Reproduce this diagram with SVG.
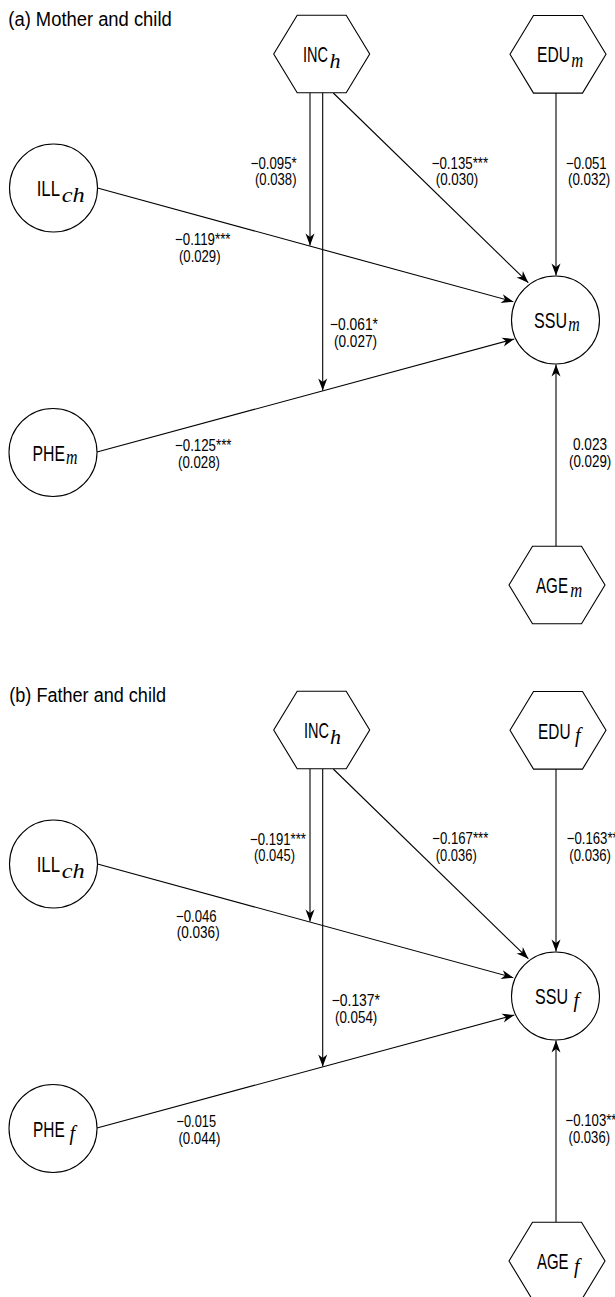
<svg xmlns="http://www.w3.org/2000/svg" xmlns:xlink="http://www.w3.org/1999/xlink" width="615" height="1297" viewBox="0 0 615 1297">
<style>
.t{font-family:"Liberation Sans Narrow","Liberation Sans",Arial,sans-serif;fill:#000}
.title{font-size:20px}
.nl{font-size:22px}
.sub{font-family:"Liberation Serif","Times New Roman",serif;font-style:italic;font-size:20px}
.el{font-size:16.5px}
.node{fill:#fff;stroke:#000;stroke-width:1.1}
.edge{fill:none;stroke:#000;stroke-width:1.1;marker-end:url(#arr)}
</style>
<defs>
<marker id="arr" markerUnits="userSpaceOnUse" viewBox="-13 -6 14 12" refX="0" refY="0" markerWidth="14" markerHeight="12" orient="auto"><path d="M0,0 L-12,-4.5 L-8.5,0 L-12,4.5 Z" fill="#000"/></marker>
<polygon id="hex" points="-48,0 -24.5,-38.8 24.5,-38.8 48,0 24.5,38.8 -24.5,38.8"/>
</defs>
<rect width="615" height="1297" fill="#fff"/>

<g id="panel-a">
<text class="t title" x="8.3" y="26" textLength="163.4" lengthAdjust="spacingAndGlyphs">(a) Mother and child</text>
<g id="a-connectors">
<line class="edge" x1="310" y1="93" x2="310" y2="245.5"/>
<line class="edge" x1="322.7" y1="93" x2="322.7" y2="390.5"/>
<line class="edge" x1="333.3" y1="93" x2="528.3" y2="282.7"/>
<line class="edge" x1="556" y1="93" x2="556" y2="275.5"/>
<line class="edge" x1="97.5" y1="188" x2="513.3" y2="301.7"/>
<line class="edge" x1="97" y1="452" x2="514.3" y2="339"/>
<line class="edge" x1="556" y1="546.5" x2="556" y2="364.5"/>
<text class="t el" x="250.7" y="168.5" textLength="46" lengthAdjust="spacingAndGlyphs">−0.095*</text>
<text class="t el" x="255" y="185" textLength="41.5" lengthAdjust="spacingAndGlyphs">(0.038)</text>
<text class="t el" x="431.7" y="168.5" textLength="56.5" lengthAdjust="spacingAndGlyphs">−0.135***</text>
<text class="t el" x="435.7" y="185" textLength="42.5" lengthAdjust="spacingAndGlyphs">(0.030)</text>
<text class="t el" x="566" y="168.5" textLength="40.7" lengthAdjust="spacingAndGlyphs">−0.051</text>
<text class="t el" x="568" y="185" textLength="42.3" lengthAdjust="spacingAndGlyphs">(0.032)</text>
<text class="t el" x="175" y="245" textLength="55.5" lengthAdjust="spacingAndGlyphs">−0.119***</text>
<text class="t el" x="179" y="261.5" textLength="41.5" lengthAdjust="spacingAndGlyphs">(0.029)</text>
<text class="t el" x="330" y="330" textLength="48" lengthAdjust="spacingAndGlyphs">−0.061*</text>
<text class="t el" x="334" y="346.5" textLength="43" lengthAdjust="spacingAndGlyphs">(0.027)</text>
<text class="t el" x="175" y="451" textLength="56.5" lengthAdjust="spacingAndGlyphs">−0.125***</text>
<text class="t el" x="178" y="467.5" textLength="42" lengthAdjust="spacingAndGlyphs">(0.028)</text>
<text class="t el" x="573" y="450" textLength="34" lengthAdjust="spacingAndGlyphs">0.023</text>
<text class="t el" x="569" y="466.5" textLength="42.3" lengthAdjust="spacingAndGlyphs">(0.029)</text>
</g>
<g id="a-INC"><use xlink:href="#hex" class="node" x="321.7" y="54"/><text class="t nl" x="303" y="61.8"><tspan textLength="25" lengthAdjust="spacingAndGlyphs">INC</tspan><tspan class="sub" x="329.5" y="67.5" textLength="11" lengthAdjust="spacingAndGlyphs">h</tspan></text></g>
<g id="a-EDU"><use xlink:href="#hex" class="node" x="558" y="54.3"/><text class="t nl" x="537" y="62"><tspan textLength="33" lengthAdjust="spacingAndGlyphs">EDU</tspan><tspan class="sub" x="571.2" y="66.5" textLength="12" lengthAdjust="spacingAndGlyphs">m</tspan></text></g>
<g id="a-ILL"><circle class="node" cx="53.5" cy="188" r="44"/><text class="t nl" x="36.7" y="196.3"><tspan textLength="23.3" lengthAdjust="spacingAndGlyphs">ILL</tspan><tspan class="sub" x="61.8" y="201.5" textLength="23" lengthAdjust="spacingAndGlyphs">ch</tspan></text></g>
<g id="a-SSU"><circle class="node" cx="555.5" cy="320" r="44"/><text class="t nl" x="534" y="328"><tspan textLength="33" lengthAdjust="spacingAndGlyphs">SSU</tspan><tspan class="sub" x="568.2" y="330.5" textLength="11.5" lengthAdjust="spacingAndGlyphs">m</tspan></text></g>
<g id="a-PHE"><circle class="node" cx="53" cy="452.5" r="44"/><text class="t nl" x="32.5" y="460.5"><tspan textLength="32.5" lengthAdjust="spacingAndGlyphs">PHE</tspan><tspan class="sub" x="66" y="463.5" textLength="11.5" lengthAdjust="spacingAndGlyphs">m</tspan></text></g>
<g id="a-AGE"><use xlink:href="#hex" class="node" x="557" y="585"/><text class="t nl" x="536" y="592.5"><tspan textLength="32" lengthAdjust="spacingAndGlyphs">AGE</tspan><tspan class="sub" x="570.2" y="597" textLength="12" lengthAdjust="spacingAndGlyphs">m</tspan></text></g>
</g>

<text class="t title" x="9.3" y="701.5" textLength="156.7" lengthAdjust="spacingAndGlyphs">(b) Father and child</text>
<g id="panel-b" transform="translate(0,676)">
<g id="b-connectors">
<line class="edge" x1="310" y1="93" x2="310" y2="245.5"/>
<line class="edge" x1="322.7" y1="93" x2="322.7" y2="390.5"/>
<line class="edge" x1="333.3" y1="93" x2="528.3" y2="282.7"/>
<line class="edge" x1="556" y1="93" x2="556" y2="275.5"/>
<line class="edge" x1="97.5" y1="188" x2="513.3" y2="301.7"/>
<line class="edge" x1="97" y1="452" x2="514.3" y2="339"/>
<line class="edge" x1="556" y1="546.5" x2="556" y2="364.5"/>
<text class="t el" x="250" y="168.8" textLength="56" lengthAdjust="spacingAndGlyphs">−0.191***</text>
<text class="t el" x="254" y="185.3" textLength="41" lengthAdjust="spacingAndGlyphs">(0.045)</text>
<text class="t el" x="432.3" y="168.3" textLength="56" lengthAdjust="spacingAndGlyphs">−0.167***</text>
<text class="t el" x="435.7" y="184.8" textLength="41" lengthAdjust="spacingAndGlyphs">(0.036)</text>
<text class="t el" x="566.7" y="168.3" textLength="51" lengthAdjust="spacingAndGlyphs">−0.163**</text>
<text class="t el" x="569.3" y="184.8" textLength="41.7" lengthAdjust="spacingAndGlyphs">(0.036)</text>
<text class="t el" x="176" y="245.5" textLength="40.7" lengthAdjust="spacingAndGlyphs">−0.046</text>
<text class="t el" x="176.7" y="262" textLength="43" lengthAdjust="spacingAndGlyphs">(0.036)</text>
<text class="t el" x="331.7" y="330" textLength="48.3" lengthAdjust="spacingAndGlyphs">−0.137*</text>
<text class="t el" x="335" y="346.5" textLength="42.3" lengthAdjust="spacingAndGlyphs">(0.054)</text>
<text class="t el" x="176.5" y="451" textLength="39.5" lengthAdjust="spacingAndGlyphs">−0.015</text>
<text class="t el" x="178.4" y="467.5" textLength="42" lengthAdjust="spacingAndGlyphs">(0.044)</text>
<text class="t el" x="565.5" y="450" textLength="51" lengthAdjust="spacingAndGlyphs">−0.103**</text>
<text class="t el" x="568.6" y="466.5" textLength="41.4" lengthAdjust="spacingAndGlyphs">(0.036)</text>
</g>
<g id="b-INC"><use xlink:href="#hex" class="node" x="321.7" y="54"/><text class="t nl" x="304" y="61.5"><tspan textLength="25" lengthAdjust="spacingAndGlyphs">INC</tspan><tspan class="sub" x="330" y="67.5" textLength="11" lengthAdjust="spacingAndGlyphs">h</tspan></text></g>
<g id="b-EDU"><use xlink:href="#hex" class="node" x="558" y="54.3"/><text class="t nl" x="538" y="62.5"><tspan textLength="32.5" lengthAdjust="spacingAndGlyphs">EDU</tspan><tspan class="sub" x="575" y="66">f</tspan></text></g>
<g id="b-ILL"><circle class="node" cx="53.5" cy="188" r="44"/><text class="t nl" x="36.7" y="196.3"><tspan textLength="23.3" lengthAdjust="spacingAndGlyphs">ILL</tspan><tspan class="sub" x="61.8" y="201.5" textLength="23" lengthAdjust="spacingAndGlyphs">ch</tspan></text></g>
<g id="b-SSU"><circle class="node" cx="555.5" cy="320" r="44"/><text class="t nl" x="535" y="327.5"><tspan textLength="33" lengthAdjust="spacingAndGlyphs">SSU</tspan><tspan class="sub" x="573.5" y="331">f</tspan></text></g>
<g id="b-PHE"><circle class="node" cx="53" cy="452.5" r="44"/><text class="t nl" x="33" y="460.5"><tspan textLength="31.7" lengthAdjust="spacingAndGlyphs">PHE</tspan><tspan class="sub" x="69.5" y="464">f</tspan></text></g>
<g id="b-AGE"><use xlink:href="#hex" class="node" x="557" y="585"/><text class="t nl" x="537" y="592.5"><tspan textLength="31.6" lengthAdjust="spacingAndGlyphs">AGE</tspan><tspan class="sub" x="574" y="596.5">f</tspan></text></g>
</g>
</svg>
